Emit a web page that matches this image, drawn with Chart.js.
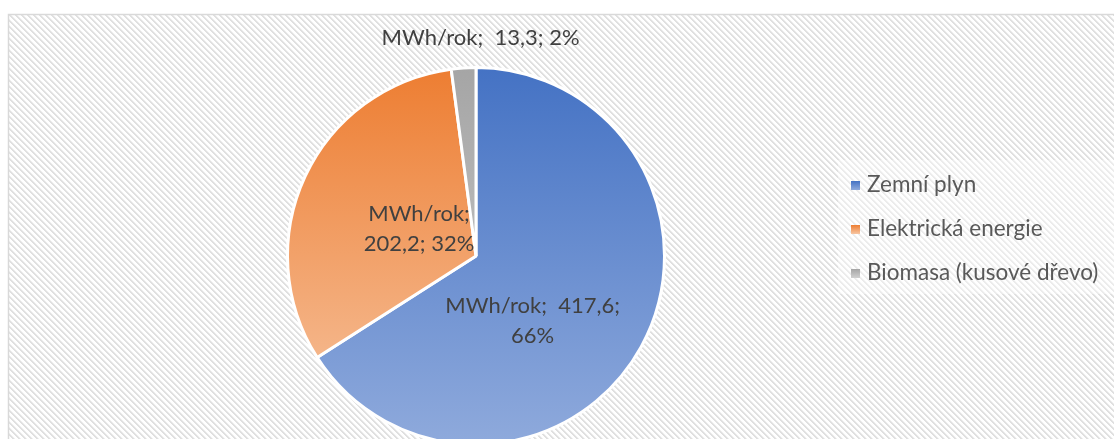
<!DOCTYPE html>
<html>
<head>
<meta charset="utf-8">
<script src="https://cdn.jsdelivr.net/npm/chart.js@4.4.0/dist/chart.umd.min.js"></script>
<style>
  html, body { margin: 0; padding: 0; background: #ffffff; overflow: hidden; }
  #wrap { position: absolute; left: 0; top: 0; width: 1114px; height: 500px; }
</style>
</head>
<body>
<div id="wrap"><canvas id="c" width="1114" height="500"></canvas></div>
<script>
// ---- data ----
const categories = ['Zemní plyn', 'Elektrická energie', 'Biomasa (kusové dřevo)'];
const values = [417.6, 202.2, 13.3];
const unitLabel = 'MWh/rok';

// ---- styles ----
const colorTop = ['#4472C4', '#ED7D31', '#A5A5A5'];
const colorBottom = ['#8FAADC', '#F7C6A3', '#D0D0D0'];
const FONT = 'Lato, "Open Sans", sans-serif';
const LABEL_SIZE = 22;
const LEGEND_SIZE = 22.5;

function fmt(v) { return String(v).replace('.', ','); }

function gradFor(ctx2d, top, bottom, i) {
  const g = ctx2d.createLinearGradient(0, top, 0, bottom);
  g.addColorStop(0, colorTop[i]);
  g.addColorStop(1, colorBottom[i]);
  return g;
}

// hatched background + border
const bgPlugin = {
  id: 'bgHatch',
  beforeDraw(chart) {
    const ctx = chart.ctx;
    const p = document.createElement('canvas');
    const N = 6;
    p.width = N; p.height = N;
    const pc = p.getContext('2d');
    const img = pc.createImageData(N, N);
    for (let y = 0; y < N; y++) {
      for (let x = 0; x < N; x++) {
        const d = ((x - y) % N + N) % N;
        let c = 255;
        if (d === 0 || d === 1) c = 224;
        else if (d === 2) c = 240;
        const k = (y * N + x) * 4;
        img.data[k] = c; img.data[k + 1] = c; img.data[k + 2] = c; img.data[k + 3] = 255;
      }
    }
    pc.putImageData(img, 0, 0);
    const pat = ctx.createPattern(p, 'repeat');
    ctx.save();
    ctx.fillStyle = '#ffffff';
    ctx.fillRect(0, 0, chart.width, chart.height);
    ctx.fillStyle = pat;
    ctx.fillRect(8, 14, chart.width - 8, chart.height - 14);
    ctx.strokeStyle = '#D9D9D9';
    ctx.lineWidth = 1.5;
    ctx.beginPath();
    ctx.moveTo(8.5, chart.height + 5);
    ctx.lineTo(8.5, 14.5);
    ctx.lineTo(chart.width + 5, 14.5);
    ctx.stroke();
    // legend box
    ctx.fillStyle = 'rgba(255,255,255,0.4)';
    ctx.fillRect(838, 160, chart.width - 838, 134);
    ctx.restore();
  }
};

// custom legend
const legendPlugin = {
  id: 'customLegend',
  afterDraw(chart) {
    const ctx = chart.ctx;
    ctx.save();
    ctx.font = LEGEND_SIZE + 'px ' + FONT;
    ctx.textBaseline = 'alphabetic';
    ctx.textAlign = 'left';
    chart.data.labels.forEach((lab, i) => {
      const base = 192 + i * 44;
      const sy = base - 11;
      ctx.fillStyle = gradFor(ctx, sy, sy + 9, i);
      ctx.fillRect(851, sy, 9, 9);
      ctx.fillStyle = '#595959';
      ctx.fillText(lab, 867, base);
    });
    ctx.restore();
  }
};

// data labels
const labelPlugin = {
  id: 'sliceLabels',
  afterDatasetsDraw(chart) {
    const ctx = chart.ctx;
    const meta = chart.getDatasetMeta(0);
    const data = chart.data.datasets[0].data;
    const sum = data.reduce((a, b) => a + b, 0);
    const cfg = [
      { dx: -26, dy: 20, split: 2 },
      { dx: 28.5, dy: 13, split: 1 },
      { outside: 30, dx: 19, dy: 0, split: 0 }
    ];
    ctx.save();
    ctx.font = LABEL_SIZE + 'px ' + FONT;
    ctx.fillStyle = '#404040';
    ctx.textAlign = 'center';
    ctx.textBaseline = 'alphabetic';
    meta.data.forEach((arc, i) => {
      const c = cfg[i];
      const pct = Math.round(data[i] / sum * 100) + '%';
      const parts = [unitLabel + ';', ' ' + fmt(data[i]) + ';', pct];
      let lines;
      if (c.split === 2) lines = [parts[0] + ' ' + parts[1], parts[2]];
      else if (c.split === 1) lines = [parts[0], parts[1].trim() + ' ' + parts[2]];
      else lines = [parts[0] + ' ' + parts[1] + ' ' + parts[2]];
      let ax, ay;
      if (c.outside) {
        const mid = (arc.startAngle + arc.endAngle) / 2;
        ax = arc.x + Math.cos(mid) * (arc.outerRadius + c.outside);
        ay = arc.y + Math.sin(mid) * (arc.outerRadius + c.outside);
      } else {
        const tp = arc.tooltipPosition();
        ax = tp.x; ay = tp.y;
      }
      ax += c.dx; ay += c.dy;
      const n = lines.length;
      lines.forEach((t, k) => {
        ctx.fillText(t, ax, ay + (k - (n - 1) / 2) * 30 + 7);
      });
    });
    ctx.restore();
  }
};

new Chart(document.getElementById('c'), {
  type: 'pie',
  data: {
    labels: categories,
    datasets: [{
      data: values,
      backgroundColor: (ctx) => {
        const area = ctx.chart.chartArea;
        if (!area) return colorTop[ctx.dataIndex];
        return gradFor(ctx.chart.ctx, area.top, area.bottom, ctx.dataIndex);
      },
      borderColor: '#ffffff',
      borderWidth: 3
    }]
  },
  options: {
    responsive: false,
    animation: false,
    layout: { padding: { left: 286, right: 448, top: 66, bottom: 54 } },
    plugins: {
      legend: { display: false },
      tooltip: { enabled: false }
    }
  },
  plugins: [bgPlugin, labelPlugin, legendPlugin]
});
</script>
</body>
</html>
